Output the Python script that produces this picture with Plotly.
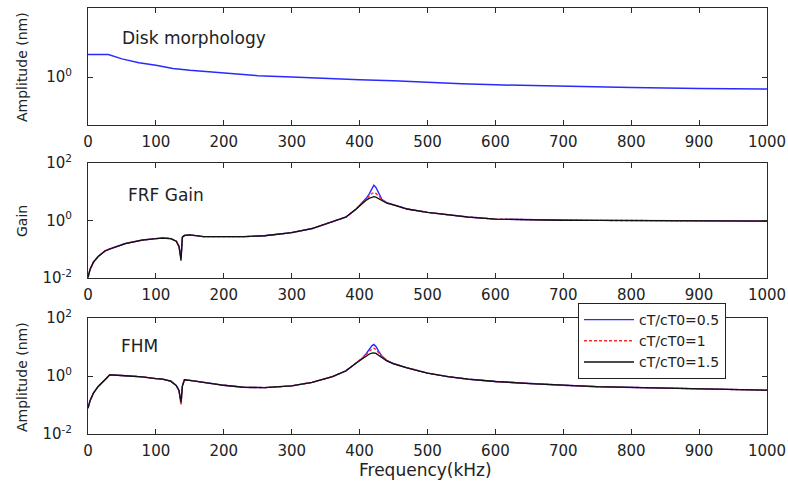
import plotly.graph_objects as go

# ---- data -------------------------------------------------------------
# Disk morphology (single curve)
freq_disk = [0, 30, 50, 75, 100, 125, 150, 200, 250, 300, 350, 400, 450,
             500, 550, 600, 700, 800, 900, 1000]
amp_disk = [1.556, 1.556, 1.429, 1.324, 1.259, 1.183, 1.143, 1.086, 1.028,
            1.000, 0.968, 0.946, 0.929, 0.898, 0.875, 0.857, 0.832, 0.815,
            0.796, 0.789]

# Shared frequency grid for the FRF gain and FHM panels (kHz)
freq = [0, 3, 8, 15, 25, 32, 55, 80, 100, 110, 122, 130, 134, 136, 137, 139,
        142, 150, 170, 200, 230, 260, 300, 330, 360, 380, 395, 405, 410, 414,
        418, 421, 424, 428, 433, 440, 450, 470, 500, 530, 560, 600, 650, 700,
        750, 800, 870, 920, 1000]

gain_05 = [0.0105, 0.0200, 0.0355, 0.0562, 0.0871, 0.102, 0.158, 0.209,
           0.234, 0.245, 0.234, 0.191, 0.126, 0.0708, 0.0501, 0.263, 0.302,
           0.316, 0.275, 0.275, 0.275, 0.295, 0.380, 0.525, 0.912, 1.32, 2.51,
           4.37, 6.03, 8.32, 13.2, 17.0, 14.1, 9.33, 5.37, 4.17, 3.55,
           2.51, 1.91, 1.55, 1.32, 1.12, 1.05, 1.02, 1.01, 1.00, 0.977, 0.966,
           0.955]
gain_10 = [0.0105, 0.0200, 0.0355, 0.0562, 0.0871, 0.102, 0.158, 0.209,
           0.234, 0.245, 0.234, 0.191, 0.126, 0.0708, 0.0501, 0.263, 0.302,
           0.316, 0.275, 0.275, 0.275, 0.295, 0.380, 0.525, 0.912, 1.32, 2.51,
           4.27, 5.50, 7.08, 8.71, 9.33, 8.71, 7.24, 5.25, 4.07, 3.51,
           2.51, 1.91, 1.55, 1.32, 1.12, 1.05, 1.02, 1.01, 1.00, 0.977, 0.966,
           0.955]
gain_15 = [0.0105, 0.0200, 0.0355, 0.0562, 0.0871, 0.102, 0.158, 0.209,
           0.234, 0.245, 0.234, 0.191, 0.126, 0.0708, 0.0398, 0.263, 0.302,
           0.316, 0.275, 0.275, 0.275, 0.295, 0.380, 0.525, 0.912, 1.32, 2.51,
           4.17, 5.13, 5.89, 6.46, 6.76, 6.46, 5.75, 4.79, 3.98, 3.47,
           2.51, 1.91, 1.55, 1.32, 1.12, 1.05, 1.02, 1.01, 1.00, 0.977, 0.966,
           0.955]

fhm_05 = [0.0776, 0.141, 0.257, 0.437, 0.741, 1.10, 1.02, 0.933, 0.813,
          0.776, 0.661, 0.468, 0.316, 0.178, 0.112, 0.447, 0.741, 0.708,
          0.603, 0.479, 0.407, 0.398, 0.457, 0.603, 0.950, 1.51, 2.82,
          4.37, 6.03, 8.13, 11.0, 12.3, 10.5, 7.24, 4.79, 3.47, 2.69,
          1.91, 1.26, 0.955, 0.776, 0.646, 0.550, 0.479, 0.427, 0.407, 0.372,
          0.347, 0.324]
fhm_10 = [0.0776, 0.141, 0.257, 0.437, 0.741, 1.10, 1.02, 0.933, 0.813,
          0.776, 0.661, 0.468, 0.316, 0.178, 0.100, 0.447, 0.741, 0.708,
          0.603, 0.479, 0.407, 0.398, 0.457, 0.603, 0.950, 1.51, 2.82,
          4.27, 5.50, 6.92, 8.51, 9.12, 8.32, 6.31, 4.57, 3.39, 2.66,
          1.91, 1.26, 0.955, 0.776, 0.646, 0.550, 0.479, 0.427, 0.407, 0.372,
          0.347, 0.324]
fhm_15 = [0.0776, 0.141, 0.257, 0.437, 0.741, 1.10, 1.02, 0.933, 0.813,
          0.776, 0.661, 0.468, 0.316, 0.178, 0.126, 0.447, 0.741, 0.708,
          0.603, 0.479, 0.407, 0.398, 0.457, 0.603, 0.950, 1.51, 2.82,
          4.17, 5.01, 5.62, 6.17, 6.31, 6.03, 5.25, 4.27, 3.31, 2.63,
          1.91, 1.26, 0.955, 0.776, 0.646, 0.550, 0.479, 0.427, 0.407, 0.372,
          0.347, 0.324]

series_names = ["cT/cT0=0.5", "cT/cT0=1", "cT/cT0=1.5"]
x_ticks = [0, 100, 200, 300, 400, 500, 600, 700, 800, 900, 1000]

# ---- layout helpers (pixel -> paper) ----------------------------------
W, H = 788, 484
ML, MR, MT, MB = 88, 21, 8, 50
PW, PH = W - ML - MR, H - MT - MB


def px_x(p):
    return (p - ML) / PW


def px_y(p):
    return (H - MB - p) / PH


FONT = "DejaVu Sans, Arial, sans-serif"
AX = "#2b2b2b"
TXT = "#222222"

styles = [
    dict(color="#2a2aff", width=1.4),
    dict(color="#ff2a2a", width=1.4, dash="3px,2px"),
    dict(color="#111111", width=1.3),
]

fig = go.Figure()

fig.add_trace(go.Scatter(x=freq_disk, y=amp_disk, mode="lines",
                         line=dict(color="#2a2aff", width=1.5),
                         xaxis="x", yaxis="y", showlegend=False))

for vals, name, st in zip([gain_05, gain_10, gain_15], series_names, styles):
    fig.add_trace(go.Scatter(x=freq, y=vals, mode="lines", line=st,
                             xaxis="x2", yaxis="y2", showlegend=False,
                             name=name))

for vals, name, st in zip([fhm_05, fhm_10, fhm_15], series_names, styles):
    fig.add_trace(go.Scatter(x=freq, y=vals, mode="lines", line=st,
                             xaxis="x3", yaxis="y3", name=name))

xcommon = dict(range=[0, 1000], tickvals=x_ticks, ticks="inside", ticklen=5,
               mirror="ticks", showline=True, linecolor=AX, linewidth=1,
               tickcolor=AX, showgrid=False, zeroline=False,
               tickfont=dict(family=FONT, size=15, color=TXT),
               ticklabelstandoff=3)
ycommon = dict(type="log", ticks="inside", ticklen=5, mirror="ticks",
               showline=True, linecolor=AX, linewidth=1, tickcolor=AX,
               showgrid=False, zeroline=False,
               tickfont=dict(family=FONT, size=15, color=TXT),
               ticklabelstandoff=12)

dec_vals = [0.01, 1, 100]
dec_text = ["10<sup>-2</sup>", "10<sup>0</sup>", "10<sup>2</sup>"]

fig.update_layout(
    width=W, height=H,
    margin=dict(l=ML, r=MR, t=MT, b=MB, autoexpand=False),
    paper_bgcolor="white", plot_bgcolor="white",
    font=dict(family=FONT, color=TXT),
    xaxis=dict(xcommon, domain=[0, 1], anchor="y"),
    yaxis=dict(ycommon, domain=[px_y(125), px_y(8)], anchor="x",
               range=[-0.41, 0.59], tickvals=[1], ticktext=["10<sup>0</sup>"]),
    xaxis2=dict(xcommon, domain=[0, 1], anchor="y2"),
    yaxis2=dict(ycommon, domain=[px_y(278), px_y(163)], anchor="x2",
                range=[-2, 2], tickvals=dec_vals, ticktext=dec_text),
    xaxis3=dict(xcommon, domain=[0, 1], anchor="y3"),
    yaxis3=dict(ycommon, domain=[px_y(434), px_y(318)], anchor="x3",
                range=[-2, 2], tickvals=dec_vals, ticktext=dec_text),
    legend=dict(x=px_x(578), y=px_y(303), xanchor="left", yanchor="top",
                bgcolor="white", bordercolor=TXT, borderwidth=1,
                font=dict(family=FONT, size=14, color=TXT),
                itemwidth=50, tracegroupgap=0),
    showlegend=True,
)

annots = [
    dict(text="Disk morphology", x=px_x(120), y=px_y(38)),
    dict(text="FRF Gain", x=px_x(126), y=px_y(195)),
    dict(text="FHM", x=px_x(119), y=px_y(346)),
]
for a in annots:
    fig.add_annotation(text=a["text"], x=a["x"], y=a["y"], xref="paper",
                       yref="paper", xanchor="left", yanchor="middle",
                       showarrow=False,
                       font=dict(family=FONT, size=17, color=TXT))

for txt, yc in [("Amplitude (nm)", 67), ("Gain", 221), ("Amplitude (nm)", 377)]:
    fig.add_annotation(text=txt, x=px_x(22), y=px_y(yc), xref="paper",
                       yref="paper", xanchor="center", yanchor="middle",
                       textangle=-90, showarrow=False,
                       font=dict(family=FONT, size=14, color=TXT))

fig.add_annotation(text="Frequency(kHz)", x=px_x(425), y=px_y(470),
                   xref="paper", yref="paper", xanchor="center",
                   yanchor="middle", showarrow=False,
                   font=dict(family=FONT, size=17, color=TXT))

fig.write_html("out.html")
